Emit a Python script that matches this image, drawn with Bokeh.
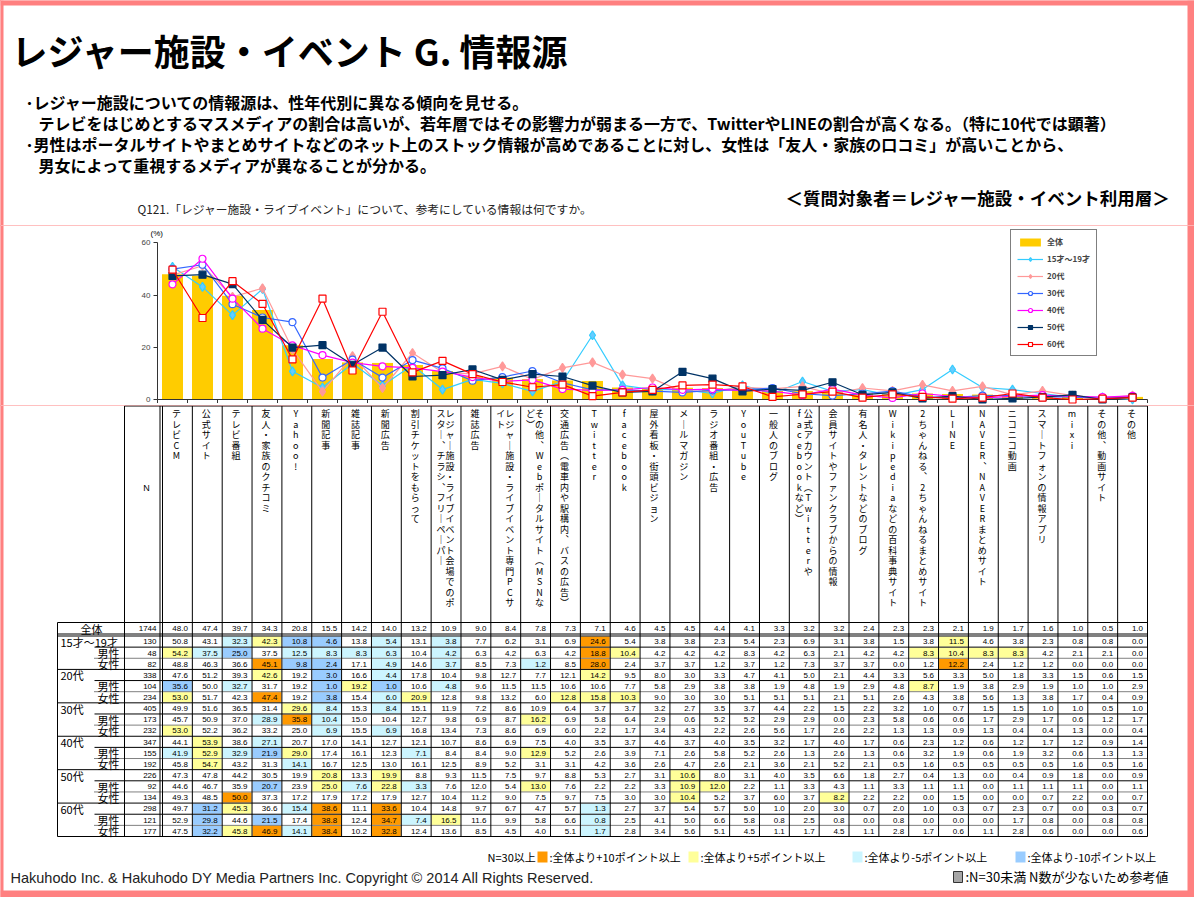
from bokeh.plotting import figure
from bokeh.models import (Range1d, LinearAxis, FixedTicker, Legend, LegendItem,
                          GlobalInlineStyleSheet)
from bokeh.layouts import column
from bokeh.core.properties import value
from bokeh.embed import file_html
from bokeh.resources import INLINE

# ---------------------------------------------------------------- data
categories = [
    "テレビCM", "公式サイト", "テレビ番組", "友人・家族のクチコミ", "Yahoo!", "新聞記事", "雑誌記事", "新聞広告",
    "割引チケットをもらって", "レジャー施設・ライブイベント会場でのポスター、チラシ、フリーペーパー", "雑誌広告",
    "レジャー施設・ライブイベント専門PCサイト", "その他、Webポータルサイト（MSNなど）",
    "交通広告（電車内や駅構内、バスの広告）", "Twitter", "facebook", "屋外看板・街頭ビジョン", "メールマガジン",
    "ラジオ番組・広告", "YouTube", "一般人のブログ", "公式アカウント（Twitterやfacebookなど）",
    "会員サイトやファンクラブからの情報", "有名人・タレントなどのブログ", "Wikipediaなどの百科事典サイト",
    "2ちゃんねる、2ちゃんねるまとめサイト", "LINE", "NAVER、NAVERまとめサイト", "ニコニコ動画",
    "スマートフォンの情報アプリ", "mixi", "その他、動画サイト", "その他"]

overall_label = "全体"
overall_n = 1744
overall = [48.0, 47.4, 39.7, 34.3, 20.8, 15.5, 14.2, 14.0, 13.2, 10.9, 9.0, 8.4, 7.8, 7.3, 7.1, 4.6, 4.5,
           4.5, 4.4, 4.1, 3.3, 3.2, 3.2, 2.4, 2.3, 2.3, 2.1, 1.9, 1.7, 1.6, 1.0, 0.5, 1.0]

age_groups = ["15才～19才", "20代", "30代", "40代", "50代", "60代"]
sex_labels = ["男性", "女性"]
group_n = [130, 338, 405, 347, 226, 298]
male_n = [48, 104, 173, 155, 92, 121]
female_n = [82, 234, 232, 192, 134, 177]

age1519 = [50.8, 43.1, 32.3, 42.3, 10.8, 4.6, 13.8, 5.4, 13.1, 3.8, 7.7, 6.2, 3.1, 6.9, 24.6, 5.4, 3.8, 3.8, 2.3, 5.4, 2.3, 6.9, 3.1, 3.8, 1.5, 3.8, 11.5, 4.6, 3.8, 2.3, 0.8, 0.8, 0.0]
age1519_m = [54.2, 37.5, 25.0, 37.5, 12.5, 8.3, 8.3, 6.3, 10.4, 4.2, 6.3, 4.2, 6.3, 4.2, 18.8, 10.4, 4.2, 4.2, 4.2, 8.3, 4.2, 6.3, 2.1, 4.2, 4.2, 8.3, 10.4, 8.3, 8.3, 4.2, 2.1, 2.1, 0.0]
age1519_f = [48.8, 46.3, 36.6, 45.1, 9.8, 2.4, 17.1, 4.9, 14.6, 3.7, 8.5, 7.3, 1.2, 8.5, 28.0, 2.4, 3.7, 3.7, 1.2, 3.7, 1.2, 7.3, 3.7, 3.7, 0.0, 1.2, 12.2, 2.4, 1.2, 1.2, 0.0, 0.0, 0.0]
age20 = [47.6, 51.2, 39.3, 42.6, 19.2, 3.0, 16.6, 4.4, 17.8, 10.4, 9.8, 12.7, 7.7, 12.1, 14.2, 9.5, 8.0, 3.0, 3.3, 4.7, 4.1, 5.0, 2.1, 4.4, 3.3, 5.6, 3.3, 5.0, 1.8, 3.3, 1.5, 0.6, 1.5]
age20_m = [35.6, 50.0, 32.7, 31.7, 19.2, 1.0, 19.2, 1.0, 10.6, 4.8, 9.6, 11.5, 11.5, 10.6, 10.6, 7.7, 5.8, 2.9, 3.8, 3.8, 1.9, 4.8, 1.9, 2.9, 4.8, 8.7, 1.9, 3.8, 2.9, 1.9, 1.0, 1.0, 2.9]
age20_f = [53.0, 51.7, 42.3, 47.4, 19.2, 3.8, 15.4, 6.0, 20.9, 12.8, 9.8, 13.2, 6.0, 12.8, 15.8, 10.3, 9.0, 3.0, 3.0, 5.1, 5.1, 5.1, 2.1, 5.1, 2.6, 4.3, 3.8, 5.6, 1.3, 3.8, 1.7, 0.4, 0.9]
age30 = [49.9, 51.6, 36.5, 31.4, 29.6, 8.4, 15.3, 8.4, 15.1, 11.9, 7.2, 8.6, 10.9, 6.4, 3.7, 3.7, 3.2, 2.7, 3.5, 3.7, 4.4, 2.2, 1.5, 2.2, 3.2, 1.0, 0.7, 1.5, 1.5, 1.0, 1.0, 0.5, 1.0]
age30_m = [45.7, 50.9, 37.0, 28.9, 35.8, 10.4, 15.0, 10.4, 12.7, 9.8, 6.9, 8.7, 16.2, 6.9, 5.8, 6.4, 2.9, 0.6, 5.2, 5.2, 2.9, 2.9, 0.0, 2.3, 5.8, 0.6, 0.6, 1.7, 2.9, 1.7, 0.6, 1.2, 1.7]
age30_f = [53.0, 52.2, 36.2, 33.2, 25.0, 6.9, 15.5, 6.9, 16.8, 13.4, 7.3, 8.6, 6.9, 6.0, 2.2, 1.7, 3.4, 4.3, 2.2, 2.6, 5.6, 1.7, 2.6, 2.2, 1.3, 1.3, 0.9, 1.3, 0.4, 0.4, 1.3, 0.0, 0.4]
age40 = [44.1, 53.9, 38.6, 27.1, 20.7, 17.0, 14.1, 12.7, 12.1, 10.7, 8.6, 6.9, 7.5, 4.0, 3.5, 3.7, 4.6, 3.7, 4.0, 3.5, 3.2, 1.7, 4.0, 1.7, 0.6, 2.3, 1.2, 0.6, 1.2, 1.7, 1.2, 0.9, 1.4]
age40_m = [41.9, 52.9, 32.9, 21.9, 29.0, 17.4, 16.1, 12.3, 7.1, 8.4, 8.4, 9.0, 12.9, 5.2, 2.6, 3.9, 7.1, 2.6, 5.8, 5.2, 2.6, 1.3, 2.6, 1.3, 0.6, 3.2, 1.9, 0.6, 1.9, 3.2, 0.6, 1.3, 1.3]
age40_f = [45.8, 54.7, 43.2, 31.3, 14.1, 16.7, 12.5, 13.0, 16.1, 12.5, 8.9, 5.2, 3.1, 3.1, 4.2, 3.6, 2.6, 4.7, 2.6, 2.1, 3.6, 2.1, 5.2, 2.1, 0.5, 1.6, 0.5, 0.5, 0.5, 0.5, 1.6, 0.5, 1.6]
age50 = [47.3, 47.8, 44.2, 30.5, 19.9, 20.8, 13.3, 19.9, 8.8, 9.3, 11.5, 7.5, 9.7, 8.8, 5.3, 2.7, 3.1, 10.6, 8.0, 3.1, 4.0, 3.5, 6.6, 1.8, 2.7, 0.4, 1.3, 0.0, 0.4, 0.9, 1.8, 0.0, 0.9]
age50_m = [44.6, 46.7, 35.9, 20.7, 23.9, 25.0, 7.6, 22.8, 3.3, 7.6, 12.0, 5.4, 13.0, 7.6, 2.2, 2.2, 3.3, 10.9, 12.0, 2.2, 1.1, 3.3, 4.3, 1.1, 3.3, 1.1, 1.1, 0.0, 1.1, 1.1, 1.1, 0.0, 1.1]
age50_f = [49.3, 48.5, 50.0, 37.3, 17.2, 17.9, 17.2, 17.9, 12.7, 10.4, 11.2, 9.0, 7.5, 9.7, 7.5, 3.0, 3.0, 10.4, 5.2, 3.7, 6.0, 3.7, 8.2, 2.2, 2.2, 0.0, 1.5, 0.0, 0.0, 0.7, 2.2, 0.0, 0.7]
age60 = [49.7, 31.2, 45.3, 36.6, 15.4, 38.6, 11.1, 33.6, 10.4, 14.8, 9.7, 6.7, 4.7, 5.7, 1.3, 2.7, 3.7, 5.4, 5.7, 5.0, 1.0, 2.0, 3.0, 0.7, 2.0, 1.0, 0.3, 0.7, 2.3, 0.7, 0.0, 0.3, 0.7]
age60_m = [52.9, 29.8, 44.6, 21.5, 17.4, 38.8, 12.4, 34.7, 7.4, 16.5, 11.6, 9.9, 5.8, 6.6, 0.8, 2.5, 4.1, 5.0, 6.6, 5.8, 0.8, 2.5, 0.8, 0.0, 0.8, 0.0, 0.0, 0.0, 1.7, 0.8, 0.0, 0.8, 0.8]
age60_f = [47.5, 32.2, 45.8, 46.9, 14.1, 38.4, 10.2, 32.8, 12.4, 13.6, 8.5, 4.5, 4.0, 5.1, 1.7, 2.8, 3.4, 5.6, 5.1, 4.5, 1.1, 1.7, 4.5, 1.1, 2.8, 1.7, 0.6, 1.1, 2.8, 0.6, 0.0, 0.0, 0.6]

group_totals = [age1519, age20, age30, age40, age50, age60]
group_male = [age1519_m, age20_m, age30_m, age40_m, age50_m, age60_m]
group_female = [age1519_f, age20_f, age30_f, age40_f, age50_f, age60_f]

y_ticks = [0, 20, 40, 60]

# ---------------------------------------------------------------- style
JP = "Noto Sans CJK JP"
NUM = "Liberation Sans"
BAR = "#FFCC00"
PINK = "#FF8080"
ORANGE, YELLOW, CYAN, BLUE, GRAY = "#FF9900", "#FFFF99", "#CCF5FF", "#99CCFF", "#A6A6A6"
series_style = [  # color, marker, fill, size
    ("#33CCFF", "diamond", "#66CCFF", 9),
    ("#FF9999", "diamond", "#FF9999", 9),
    ("#3366FF", "circle", "white", 7),
    ("#FF00FF", "circle", "white", 7),
    ("#003366", "square", "#003366", 7),
    ("#FF0000", "square", "white", 7),
]

W, H = 1194, 897
n_cat = len(categories)


def page_fig(y_top, y_bot):
    f = figure(width=W, height=int(round(y_bot - y_top)), x_range=Range1d(0, W),
               y_range=Range1d(y_bot, y_top), x_axis_type=None, y_axis_type=None,
               toolbar_location=None, output_backend="svg", min_border=0, title=None)
    f.outline_line_color = None
    f.background_fill_color = "white"
    f.border_fill_color = "white"
    return f


def pink_frame(f, y_top, y_bot, rname="default"):
    kw = {} if rname == "default" else dict(x_range_name=rname, y_range_name=rname)
    f.quad(left=[0, 1187], right=[3, W], top=[y_top, y_top], bottom=[y_bot, y_bot],
           fill_color=PINK, line_color=None, **kw)
    if y_top < 5:
        f.quad(left=[0], right=[W], top=[0], bottom=[5], fill_color=PINK, line_color=None, **kw)
    if y_bot > 890:
        f.quad(left=[0], right=[W], top=[890], bottom=[H], fill_color=PINK, line_color=None, **kw)


# ---------------------------------------------------------------- top (titles)
top = page_fig(0, 225)
pink_frame(top, 0, 225)
top.text(x=[11], y=[49], text=["レジャー施設・イベント  G.  情報源"], text_font=value(JP),
         text_font_size="36px", text_font_style="bold", text_baseline="middle", text_color="black")
bullets = [
    ("･レジャー施設についての情報源は、性年代別に異なる傾向を見せる。", 25, 101),
    ("テレビをはじめとするマスメディアの割合は高いが、若年層ではその影響力が弱まる一方で、TwitterやLINEの割合が高くなる。（特に10代では顕著）", 38, 122),
    ("･男性はポータルサイトやまとめサイトなどのネット上のストック情報が高めであることに対し、女性は「友人・家族の口コミ」が高いことから、", 25, 143),
    ("男女によって重視するメディアが異なることが分かる。", 38, 164),
]
top.text(x=[b[1] for b in bullets], y=[b[2] for b in bullets], text=[b[0] for b in bullets],
         text_font=value(JP), text_font_size="16px", text_font_style="bold",
         text_baseline="middle", text_color="black")
top.text(x=[1170], y=[197], text=["＜質問対象者＝レジャー施設・イベント利用層＞"], text_font=value(JP),
         text_font_size="17.5px", text_font_style="bold", text_align="right", text_baseline="middle")
top.text(x=[137], y=[208], text=["Q121.「レジャー施設・ライブイベント」について、参考にしている情報は何ですか。"],
         text_font=value(JP), text_font_size="11.8px", text_baseline="middle", text_color="#222222")

# ---------------------------------------------------------------- chart
PX = (399.0 - 242.3) / 60.0     # pixels per percentage point
CWC = 30.0                      # pixels per category in the chart
CX0 = 157.0                     # page x of the chart's y axis
chart = figure(width=W, height=180, x_range=Range1d(-CX0 / CWC, (W - CX0) / CWC),
               y_range=Range1d(-(405 - 399) / PX, (399 - 225) / PX),
               x_axis_type=None, y_axis_type=None, toolbar_location=None, output_backend="svg",
               min_border=0, title=None)
chart.outline_line_color = None
chart.background_fill_color = "white"
chart.border_fill_color = "white"
chart.extra_x_ranges = {"page": Range1d(0, W)}
chart.extra_y_ranges = {"page": Range1d(405, 225)}
pink_frame(chart, 225, 405, "page")

yax = LinearAxis(ticker=FixedTicker(ticks=y_ticks), bounds=(0, 60), fixed_location=0)
yax.major_tick_in = 0
yax.major_tick_out = 4
yax.minor_tick_line_color = None
yax.axis_line_color = "#333333"
yax.major_tick_line_color = "#333333"
yax.major_label_text_font = NUM
yax.major_label_text_font_size = "8px"
yax.major_label_standoff = 3
chart.add_layout(yax, "left")

xs = [i + 0.5 for i in range(n_cat)]
bar_r = chart.vbar(x=xs, top=overall, width=0.7, fill_color=BAR, line_color=None)
chart.segment(x0=[0], y0=[0], x1=[n_cat], y1=[0], line_color="#333333", line_width=1)
bnd = list(range(n_cat + 1))
chart.segment(x0=bnd, y0=[0] * len(bnd), x1=bnd, y1=[-3.5 / PX] * len(bnd), line_color="#333333")

items = [LegendItem(label=overall_label, renderers=[bar_r])]
for name, vals, (col, mk, fill, sz) in zip(age_groups, group_totals, series_style):
    lr = chart.line(xs, vals, line_color=col, line_width=1.2)
    sr = chart.scatter(xs, vals, marker=mk, size=sz, fill_color=fill, line_color=col, line_width=1.2)
    items.append(LegendItem(label=name, renderers=[lr, sr]))

legend = Legend(items=items, location=(1010, 49), orientation="vertical",
                border_line_color="black", border_line_width=1.5, background_fill_color="white",
                background_fill_alpha=1.0, label_text_font=JP, label_text_font_size="8px",
                label_text_font_style="bold", glyph_width=26, glyph_height=10, label_height=10,
                label_standoff=4, spacing=6, padding=6, margin=0)
chart.add_layout(legend)
chart.text(x=[150], y=[233], text=["(%)"], text_font=value(NUM), text_font_size="8px",
           text_baseline="middle", x_range_name="page", y_range_name="page")

# ---------------------------------------------------------------- table
tab = page_fig(405, H)
pink_frame(tab, 405, H)
C0 = 162.0
CW = (1147.0 - C0) / n_cat
col_left = [C0 + k * CW for k in range(n_cat)]
col_c = [l + CW / 2 for l in col_left]
R_TOP, R0_BOT, R1_TOP, R_BOT = 622.0, 633.5, 635.5, 836.0
RH = (R_BOT - R1_TOP) / 18.0

# header texts (vertical writing)
VMAP = {"ー": "｜", "、": "︑", "（": "︵", "）": "︶"}
split_at = {9: 19, 11: 19, 12: 19, 21: 16}
hx, hy, ht = [], [], []
for k, cat in enumerate(categories):
    c = col_c[k]
    if k in split_at:
        lines = [cat[:split_at[k]], cat[split_at[k]:]]
        lxs = [c + 4.0, c - 5.0]
    else:
        lines = [cat]
        lxs = [c - 1.0]
    for lx, line in zip(lxs, lines):
        for i, ch in enumerate(line):
            hx.append(lx)
            hy.append(413 + i * 10.5)
            ht.append(VMAP.get(ch, ch))
tab.text(x=hx, y=hy, text=ht, text_font=value(JP), text_font_size="9px", text_align="center",
         text_baseline="middle", text_color="black")
tab.text(x=[146], y=[487], text=["N"], text_font=value(NUM), text_font_size="9px",
         text_align="center", text_baseline="middle")

rows = [(overall_label, overall_n, overall, "total")]
for g in range(len(age_groups)):
    rows.append((age_groups[g], group_n[g], group_totals[g], "group"))
    rows.append((sex_labels[0], male_n[g], group_male[g], "sub"))
    rows.append((sex_labels[1], female_n[g], group_female[g], "sub"))


def row_span(r):
    if r == 0:
        return R_TOP, R0_BOT
    t = R1_TOP + (r - 1) * RH
    return t, t + RH


def cell_color(v, base):
    d = round(v - base, 1)
    if d >= 10:
        return ORANGE
    if d >= 5:
        return YELLOW
    if d <= -10:
        return BLUE
    if d <= -5:
        return CYAN
    return None


ql, qr, qt, qb, qc = [], [], [], [], []
tx, ty, tt = [], [], []
lx_, ly_, lt_, la_ = [], [], [], []
nx, ny, nt = [], [], []
for r, (lab, nval, vals, kind) in enumerate(rows):
    t, b = row_span(r)
    ym = (t + b) / 2 + 0.3
    for k, v in enumerate(vals):
        if kind != "total":
            colr = cell_color(v, overall[k])
            if colr:
                ql.append(col_left[k] + 0.5); qr.append(col_left[k] + CW - 0.5)
                qt.append(t + 0.5); qb.append(b - 0.5); qc.append(colr)
        tx.append(col_left[k] + CW - 4.5); ty.append(ym); tt.append(f"{v:.1f}")
    nx.append(156); ny.append(ym); nt.append(str(nval))
    if kind == "total":
        lx_.append(91); la_.append("center")
    elif kind == "group":
        lx_.append(60); la_.append("left")
    else:
        lx_.append(108); la_.append("center")
    ly_.append(ym); lt_.append(lab)

tab.quad(left=ql, right=qr, top=qt, bottom=qb, fill_color=qc, line_color=None)
tab.text(x=tx, y=ty, text=tt, text_font=value(NUM), text_font_size="8px", text_align="right",
         text_baseline="middle", text_color="black")
tab.text(x=nx, y=ny, text=nt, text_font=value(NUM), text_font_size="8px", text_align="right",
         text_baseline="middle", text_color="black")
tab.text(x=lx_, y=ly_, text=lt_, text_font=value(JP), text_font_size="11px", text_align=la_,
         text_baseline="middle", text_color="black")

sx0, sy0, sx1, sy1 = [], [], [], []
dx0, dy0, dx1, dy1 = [], [], [], []


def hline(y, a, b, dotted=False):
    if dotted:
        dx0.append(a); dx1.append(b); dy0.append(y); dy1.append(y)
    else:
        sx0.append(a); sx1.append(b); sy0.append(y); sy1.append(y)


def vline(x, a, b):
    sx0.append(x); sx1.append(x); sy0.append(a); sy1.append(b)


hline(405.5, 124, 1147)
hline(R_TOP, 57, 1147)
hline(R0_BOT, 57, 1147)
hline(R1_TOP, 57, 1147)
for g in range(len(age_groups)):
    tg = R1_TOP + 3 * g * RH
    if g > 0:
        hline(tg, 57, 1147)
    hline(tg + RH, 94, 1147)
    hline(tg + 2 * RH, 94, 1147, dotted=True)
hline(R_BOT, 57, 1147)
vline(57, R_TOP, R_BOT)
vline(124, 405.5, R_BOT)
vline(159.5, 405.5, R_BOT)
for k in range(n_cat + 1):
    vline(C0 + k * CW, 405.5, R_BOT)
tab.segment(x0=sx0, y0=sy0, x1=sx1, y1=sy1, line_color="black", line_width=1)
tab.segment(x0=dx0, y0=dy0, x1=dx1, y1=dy1, line_color="black", line_width=1, line_dash="1 1")

# footer legend + copyright
tab.text(x=[487], y=[856], text=["N=30以上"], text_font=value(JP), text_font_size="11px",
         text_baseline="middle")
leg_sq = [(537, ORANGE, ":全体より+10ポイント以上"), (688, YELLOW, ":全体より+5ポイント以上"),
          (852, CYAN, ":全体より-5ポイント以上"), (1015, BLUE, ":全体より-10ポイント以上")]
tab.quad(left=[s[0] for s in leg_sq], right=[s[0] + 10 for s in leg_sq], top=[851] * 4, bottom=[862] * 4,
         fill_color=[s[1] for s in leg_sq], line_color=None)
tab.text(x=[s[0] + 12 for s in leg_sq], y=[856] * 4, text=[s[2] for s in leg_sq], text_font=value(JP),
         text_font_size="11px", text_baseline="middle")
tab.quad(left=[953], right=[962], top=[871], bottom=[882], fill_color=GRAY, line_color="#333333")
tab.text(x=[965], y=[876], text=[":N=30未満  N数が少ないため参考値"], text_font=value(JP),
         text_font_size="13px", text_baseline="middle")
tab.text(x=[10], y=[877], text=["Hakuhodo Inc. & Hakuhodo DY Media Partners Inc. Copyright © 2014 All Rights Reserved."],
         text_font=value(NUM), text_font_size="14.5px", text_baseline="middle", text_color="#222222")

layout = column(top, chart, tab, spacing=0,
                stylesheets=[GlobalInlineStyleSheet(css="body { background-color: #FF8080; }")])

open("out.html", "w").write(file_html(layout, INLINE, title="レジャー施設・イベント G. 情報源"))
